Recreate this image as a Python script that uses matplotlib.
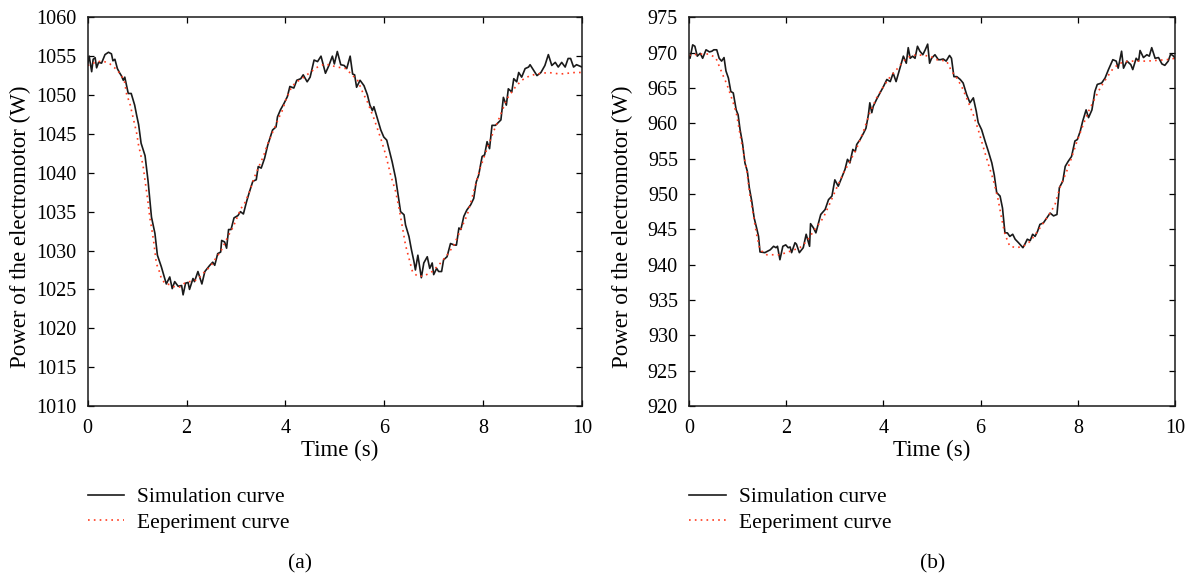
# -*- coding: utf-8 -*-
"""
Power of the electromotor: simulation vs experiment, two cases (a) and (b).
"""

import numpy as np
import matplotlib
matplotlib.use("Agg")
import matplotlib.pyplot as plt

plt.rcParams['font.family'] = ['Liberation Serif', 'DejaVu Serif']

# ---------------- data, panel (a) ----------------
t_sim_a = [0.00, 0.03, 0.08, 0.11, 0.15, 0.18, 0.22, 0.28, 0.35, 0.42, 0.48, 0.51, 0.55,
           0.60, 0.65, 0.68, 0.72, 0.75, 0.82, 0.88, 0.95, 0.99, 1.03, 1.08, 1.16, 1.22,
           1.29, 1.36, 1.41, 1.49, 1.59, 1.66, 1.71, 1.76, 1.83, 1.90, 1.93, 1.98, 2.03,
           2.06, 2.13, 2.16, 2.23, 2.31, 2.37, 2.47, 2.53, 2.57, 2.63, 2.69, 2.71, 2.77,
           2.81, 2.85, 2.90, 2.96, 3.04, 3.09, 3.15, 3.21, 3.27, 3.34, 3.41, 3.45, 3.51,
           3.58, 3.64, 3.71, 3.74, 3.81, 3.84, 3.90, 3.97, 4.04, 4.09, 4.17, 4.23, 4.31,
           4.36, 4.44, 4.50, 4.58, 4.65, 4.72, 4.81, 4.88, 4.95, 4.99, 5.05, 5.12, 5.19,
           5.24, 5.31, 5.36, 5.40, 5.44, 5.51, 5.59, 5.66, 5.71, 5.76, 5.79, 5.86, 5.93,
           5.99, 6.05, 6.10, 6.16, 6.23, 6.30, 6.33, 6.40, 6.43, 6.50, 6.55, 6.60, 6.63,
           6.68, 6.75, 6.80, 6.87, 6.92, 6.97, 7.00, 7.06, 7.10, 7.16, 7.20, 7.27, 7.34,
           7.42, 7.46, 7.51, 7.55, 7.61, 7.67, 7.75, 7.81, 7.86, 7.91, 7.98, 8.03, 8.08,
           8.13, 8.18, 8.25, 8.36, 8.41, 8.47, 8.51, 8.58, 8.62, 8.68, 8.72, 8.78, 8.85,
           8.92, 8.95, 9.02, 9.09, 9.17, 9.25, 9.32, 9.39, 9.46, 9.52, 9.59, 9.66, 9.72,
           9.77, 9.83, 9.89, 10.00]
p_sim_a = [1054.0, 1055.0, 1053.0, 1054.6, 1054.8, 1053.5, 1054.2, 1054.1, 1055.2, 1055.5,
           1055.3, 1054.4, 1054.6, 1053.4, 1052.8, 1052.5, 1051.9, 1052.3, 1050.2, 1050.2,
           1048.7, 1047.4, 1046.2, 1043.8, 1042.2, 1039.0, 1034.3, 1032.2, 1029.4, 1027.9,
           1025.7, 1026.6, 1025.1, 1026.0, 1025.4, 1025.5, 1024.3, 1025.8, 1025.9, 1025.0,
           1026.4, 1026.0, 1027.3, 1025.7, 1027.3, 1028.1, 1028.5, 1028.1, 1029.6, 1029.8,
           1031.3, 1031.1, 1030.3, 1032.7, 1032.7, 1034.2, 1034.5, 1035.0, 1034.7, 1036.2,
           1037.5, 1038.9, 1039.1, 1040.8, 1040.6, 1041.9, 1043.5, 1044.9, 1045.5, 1045.9,
           1047.2, 1048.1, 1048.9, 1049.8, 1051.1, 1050.9, 1051.9, 1052.1, 1052.6, 1051.7,
           1052.3, 1054.5, 1054.3, 1055.0, 1052.8, 1053.8, 1055.0, 1054.0, 1055.6, 1053.9,
           1053.8, 1053.4, 1055.0, 1052.7, 1052.6, 1051.0, 1051.9, 1051.2, 1050.0, 1048.7,
           1048.0, 1048.5, 1047.0, 1045.5, 1044.6, 1044.2, 1042.9, 1041.4, 1039.3, 1036.3,
           1035.0, 1034.6, 1033.3, 1031.8, 1030.1, 1028.6, 1027.5, 1029.4, 1026.5, 1028.4,
           1029.2, 1027.7, 1028.4, 1026.9, 1027.7, 1027.3, 1027.3, 1028.8, 1029.2, 1030.9,
           1030.7, 1030.7, 1032.9, 1032.7, 1034.4, 1035.2, 1035.9, 1036.7, 1038.8, 1039.7,
           1042.1, 1042.3, 1044.0, 1043.1, 1046.1, 1046.1, 1046.8, 1049.7, 1048.7, 1050.8,
           1050.4, 1052.1, 1051.7, 1052.9, 1052.3, 1053.4, 1053.6, 1053.9, 1053.2, 1052.5,
           1052.9, 1053.8, 1055.2, 1053.8, 1054.2, 1053.6, 1054.2, 1053.6, 1054.7, 1054.7,
           1053.6, 1053.9, 1053.6]

t_exp_a = [0.00, 0.15, 0.30, 0.45, 0.60, 0.70, 0.74, 0.79, 0.85, 0.90, 0.99, 1.03, 1.07,
           1.12, 1.16, 1.21, 1.26, 1.30, 1.34, 1.39, 1.44, 1.49, 1.56, 1.66, 1.76, 1.86,
           1.96, 2.06, 2.20, 2.30, 2.40, 2.48, 2.57, 2.70, 2.80, 2.87, 2.94, 3.00, 3.10,
           3.17, 3.27, 3.37, 3.47, 3.56, 3.64, 3.74, 3.81, 3.86, 3.93, 4.01, 4.13, 4.23,
           4.33, 4.52, 4.62, 4.80, 4.92, 5.05, 5.22, 5.46, 5.56, 5.66, 5.79, 5.93, 6.03,
           6.13, 6.23, 6.30, 6.37, 6.43, 6.50, 6.57, 6.67, 6.80, 6.97, 7.14, 7.27, 7.41,
           7.54, 7.68, 7.81, 7.94, 8.08, 8.21, 8.35, 8.48, 8.65, 8.78, 8.95, 9.09, 9.32,
           9.56, 9.86, 10.00]
p_exp_a = [1053.8, 1054.2, 1054.4, 1054.0, 1053.2, 1052.3, 1051.9, 1050.0, 1049.0, 1047.6,
           1045.1, 1043.5, 1042.4, 1040.9, 1039.0, 1036.7, 1034.1, 1032.6, 1030.9, 1028.3,
           1027.5, 1026.4, 1025.8, 1025.6, 1025.3, 1025.3, 1025.8, 1026.0, 1026.2, 1026.8,
           1027.5, 1027.9, 1028.8, 1030.0, 1031.3, 1032.2, 1033.0, 1033.9, 1035.4, 1036.0,
           1037.5, 1039.4, 1040.9, 1042.2, 1043.7, 1045.2, 1046.2, 1047.0, 1047.9, 1049.4,
           1051.1, 1051.7, 1052.1, 1053.0, 1053.5, 1054.0, 1053.8, 1053.6, 1053.4, 1051.9,
           1050.4, 1049.1, 1047.0, 1044.4, 1042.3, 1039.7, 1037.6, 1035.4, 1032.9, 1030.7,
           1029.0, 1027.3, 1026.7, 1026.7, 1027.3, 1028.4, 1029.4, 1030.7, 1032.6, 1034.6,
           1037.6, 1040.6, 1043.1, 1045.3, 1047.4, 1049.5, 1051.0, 1051.9, 1052.5, 1052.7,
           1052.9, 1052.7, 1052.9, 1052.9]

# ---------------- data, panel (b) ----------------
t_sim_b = [0.00, 0.02, 0.075, 0.12, 0.17, 0.23, 0.28, 0.35, 0.42, 0.47, 0.51, 0.57, 0.62,
           0.67, 0.72, 0.76, 0.81, 0.86, 0.91, 0.97, 1.01, 1.05, 1.10, 1.15, 1.20, 1.24,
           1.29, 1.34, 1.39, 1.43, 1.46, 1.56, 1.67, 1.74, 1.79, 1.82, 1.87, 1.93, 1.99,
           2.04, 2.08, 2.11, 2.18, 2.21, 2.27, 2.35, 2.41, 2.48, 2.50, 2.56, 2.61, 2.71,
           2.80, 2.87, 2.94, 3.00, 3.07, 3.14, 3.21, 3.26, 3.31, 3.37, 3.42, 3.45, 3.52,
           3.59, 3.64, 3.69, 3.72, 3.76, 3.79, 3.86, 3.93, 4.00, 4.07, 4.14, 4.20, 4.26,
           4.31, 4.36, 4.41, 4.47, 4.51, 4.55, 4.60, 4.65, 4.70, 4.75, 4.81, 4.86, 4.91,
           4.95, 4.99, 5.06, 5.13, 5.17, 5.23, 5.29, 5.36, 5.40, 5.45, 5.51, 5.58, 5.64,
           5.71, 5.78, 5.85, 5.91, 5.95, 6.02, 6.09, 6.16, 6.23, 6.28, 6.33, 6.40, 6.45,
           6.50, 6.55, 6.60, 6.66, 6.71, 6.78, 6.87, 6.91, 6.96, 7.02, 7.07, 7.12, 7.17,
           7.22, 7.29, 7.36, 7.43, 7.50, 7.57, 7.62, 7.69, 7.74, 7.80, 7.87, 7.94, 7.99,
           8.05, 8.10, 8.17, 8.22, 8.29, 8.35, 8.40, 8.49, 8.56, 8.63, 8.72, 8.79, 8.83,
           8.90, 8.94, 9.01, 9.09, 9.13, 9.20, 9.25, 9.28, 9.35, 9.42, 9.47, 9.52, 9.59,
           9.66, 9.73, 9.79, 9.86, 9.91, 9.97, 10.00]
p_sim_b = [969.5, 969.2, 971.1, 970.9, 969.5, 969.9, 969.2, 970.4, 970.1, 970.2, 970.4,
           970.4, 969.2, 968.8, 969.3, 967.4, 966.4, 964.5, 964.3, 961.9, 961.2, 959.1,
           957.2, 954.4, 953.2, 950.9, 949.0, 946.6, 945.2, 944.0, 941.8, 941.7, 942.1,
           942.6, 942.4, 942.6, 940.7, 942.6, 942.8, 942.4, 942.5, 941.7, 943.1, 942.9,
           941.7, 942.4, 944.3, 942.6, 945.8, 945.2, 944.5, 947.1, 947.8, 949.2, 949.7,
           952.0, 951.1, 952.3, 953.5, 954.9, 954.4, 956.3, 956.0, 957.0, 957.7, 958.6,
           959.3, 961.2, 962.9, 961.5, 962.4, 963.4, 964.3, 965.2, 966.2, 965.9, 967.1,
           965.9, 967.1, 968.3, 969.5, 968.5, 970.7, 969.2, 969.5, 969.2, 970.9, 970.2,
           969.7, 970.4, 971.2, 968.5, 969.2, 969.7, 969.0, 969.0, 969.1, 968.8, 969.6,
           969.2, 966.6, 966.6, 966.2, 965.7, 964.1, 962.9, 963.6, 961.7, 960.1, 959.1,
           957.5, 956.0, 954.4, 952.7, 950.2, 949.7, 948.0, 944.5, 944.5, 944.0, 944.3,
           943.6, 943.1, 942.4, 942.9, 943.6, 943.4, 944.3, 944.0, 944.7, 945.7, 945.9,
           946.6, 947.3, 946.9, 947.1, 950.9, 951.8, 953.9, 954.6, 955.3, 957.5, 957.7,
           958.9, 960.3, 961.9, 960.8, 961.9, 964.5, 965.5, 965.7, 966.4, 967.6, 969.0,
           968.8, 967.8, 970.2, 967.8, 968.8, 968.3, 967.6, 969.2, 968.8, 970.3, 969.3,
           969.7, 969.5, 970.7, 969.2, 969.3, 968.4, 968.2, 968.8, 969.8, 969.5, 969.2]

t_exp_b = [0.00, 0.20, 0.40, 0.55, 0.62, 0.71, 0.78, 0.84, 0.91, 0.98, 1.05, 1.12, 1.19,
           1.25, 1.32, 1.39, 1.46, 1.60, 1.87, 2.08, 2.28, 2.42, 2.59, 2.76, 2.90, 3.04,
           3.18, 3.31, 3.45, 3.59, 3.72, 3.86, 4.00, 4.14, 4.27, 4.41, 4.55, 4.69, 4.96,
           5.10, 5.30, 5.40, 5.51, 5.61, 5.71, 5.85, 5.95, 6.06, 6.16, 6.26, 6.36, 6.43,
           6.50, 6.60, 6.74, 6.88, 7.02, 7.15, 7.29, 7.43, 7.53, 7.63, 7.77, 7.87, 7.97,
           8.11, 8.22, 8.32, 8.46, 8.59, 8.73, 8.87, 9.04, 9.42, 9.83, 10.00]
p_exp_b = [969.6, 969.8, 969.8, 969.3, 968.1, 966.6, 965.5, 964.3, 962.9, 961.2, 958.4,
           955.8, 953.2, 949.9, 947.1, 944.3, 942.1, 941.4, 941.4, 941.9, 942.4, 943.3,
           945.0, 946.6, 948.7, 950.9, 953.0, 954.6, 956.5, 958.9, 961.5, 963.6, 965.2,
           966.6, 967.6, 968.8, 969.5, 969.7, 969.5, 969.0, 968.8, 967.4, 966.4, 965.2,
           963.6, 961.2, 959.1, 956.5, 954.2, 952.0, 949.2, 946.6, 944.3, 942.6, 942.4,
           942.6, 943.3, 944.5, 945.9, 947.3, 948.5, 950.9, 953.2, 955.1, 957.2, 959.8,
           961.7, 963.1, 965.0, 966.4, 967.8, 968.5, 968.8, 968.8, 969.0, 969.2]

ylim_a = (1010, 1060)
ylim_b = (920, 975)
xticks = [0, 2, 4, 6, 8, 10]
legend_labels = ['Simulation curve', 'Eeperiment curve']
panel_labels = ['(a)', '(b)']

fs_tick = 14.5
fs_label = 16.5
fs_leg = 15.5

fig = plt.figure(figsize=(11.95, 5.76), dpi=100)
ax_a = fig.add_axes([0.0734, 0.2951, 0.4136, 0.6749])
ax_b = fig.add_axes([0.5766, 0.2951, 0.4067, 0.6749])

panels = [(ax_a, t_sim_a, p_sim_a, t_exp_a, p_exp_a, ylim_a, 0.51, 300),
          (ax_b, t_sim_b, p_sim_b, t_exp_b, p_exp_b, ylim_b, 0.5, 933)]

for i, (ax, ts, ps, te, pe, yl, xl_x, lab_px) in enumerate(panels):
    l1, = ax.plot(ts, ps, color='#1a1a1a', lw=1.2, label=legend_labels[0])
    l2, = ax.plot(te, pe, color='#ff3b1f', lw=1.2, ls=(0, (1, 2.5)),
                  label=legend_labels[1])
    ax.set_xlim(0, 10)
    ax.set_ylim(*yl)
    ax.set_xticks(xticks)
    ax.set_yticks(np.arange(yl[0], yl[1] + 1, 5))
    ax.tick_params(direction='in', top=True, right=True, length=4, width=0.9,
                   labelsize=fs_tick)
    ax.tick_params(axis='y', pad=8)
    ax.tick_params(axis='x', pad=9)
    for sp in ax.spines.values():
        sp.set_linewidth(1.1)
        sp.set_color('#1a1a1a')
    ax.set_xlabel('Time (s)', fontsize=fs_label)
    ax.xaxis.set_label_coords(xl_x, -0.088)
    ax.set_ylabel('Power of the electromotor (W)', fontsize=fs_label)
    ax.yaxis.set_label_coords(-0.115, 0.46)

    x0 = ax.get_position().x0
    ax.legend(handles=[l1, l2], loc='upper left',
              bbox_to_anchor=(x0, 1 - 487 / 576), bbox_transform=fig.transFigure,
              frameon=False, fontsize=fs_leg, handlelength=1.7, handletextpad=0.6,
              labelspacing=0.25, borderaxespad=0, borderpad=0)
    fig.text(lab_px / 1195, 1 - 564 / 576, panel_labels[i], ha='center', va='center',
             fontsize=fs_leg)

fig.savefig('out.png', dpi=100)
